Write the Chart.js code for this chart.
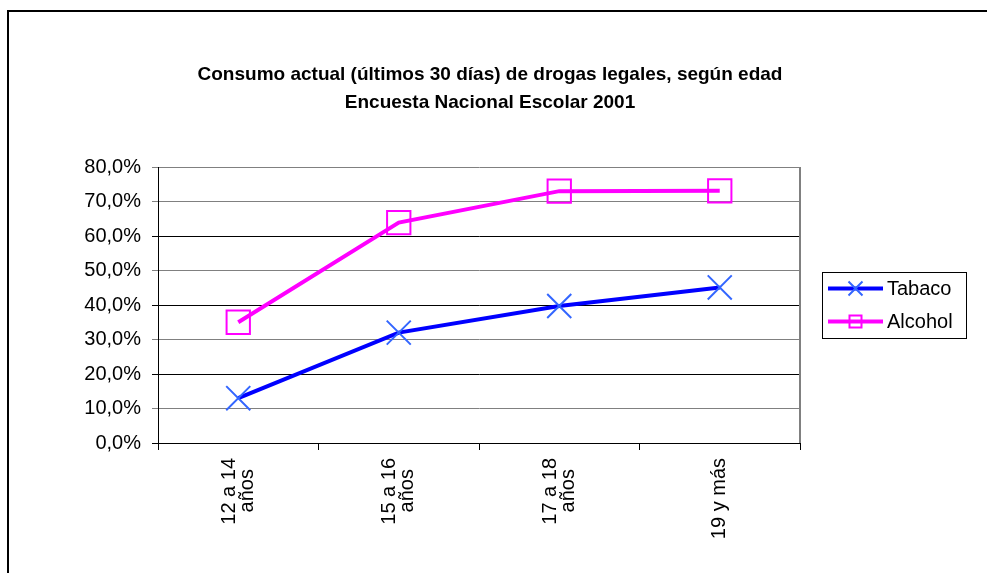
<!DOCTYPE html>
<html>
<head>
<meta charset="utf-8">
<script src="https://cdn.jsdelivr.net/npm/chart.js@4/dist/chart.umd.min.js"></script>
<style>
html,body{margin:0;padding:0;background:#fff;}
#wrap{width:987px;height:573px;position:relative;}
</style>
</head>
<body>
<div id="wrap"><canvas id="c" width="987" height="573"></canvas></div>
<script>
const categories = [['12 a 14', 'años'], ['15 a 16', 'años'], ['17 a 18', 'años'], ['19 y más']];
const tabaco = [13.0, 32.0, 39.7, 45.1];
const alcohol = [35.0, 63.9, 73.0, 73.1];
const yTicks = [0, 10, 20, 30, 40, 50, 60, 70, 80];
const seriesNames = ['Tabaco', 'Alcohol'];
const titleLines = ['Consumo actual (últimos 30 días) de drogas legales, según edad', 'Encuesta Nacional Escolar 2001'];

const FONT = "Arial, 'Liberation Sans', sans-serif";

const framePlugin = {
  id: 'frame',
  beforeDraw(chart) {
    const ctx = chart.ctx;
    ctx.save();
    ctx.fillStyle = '#fff';
    ctx.fillRect(0, 0, chart.width, chart.height);
    ctx.strokeStyle = '#000';
    ctx.lineWidth = 2;
    ctx.strokeRect(8, 11, chart.width + 20, chart.height + 20);
    ctx.restore();
  },
  beforeDatasetsDraw(chart) {
    const a = chart.chartArea, ctx = chart.ctx;
    ctx.save();
    ctx.strokeStyle = '#808080';
    ctx.lineWidth = 2;
    ctx.beginPath();
    ctx.moveTo(a.right, a.top);
    ctx.lineTo(a.right, a.bottom);
    ctx.stroke();
    ctx.restore();
  },
  afterDraw(chart) {
    const a = chart.chartArea, ctx = chart.ctx;
    const left = a.right + 22, w = 144, h = 66;
    const top = (a.top + a.bottom) / 2 - h / 2;
    ctx.save();
    ctx.strokeStyle = '#000';
    ctx.lineWidth = 1;
    ctx.strokeRect(left + 0.5, top + 0.5, w, h);
    const rows = [top + 16.5, top + 49.5];
    chart.data.datasets.forEach((ds, i) => {
      const y = rows[i];
      const x0 = left + 6, x1 = left + 61, xc = (x0 + x1) / 2;
      ctx.strokeStyle = ds.borderColor;
      ctx.lineWidth = ds.borderWidth;
      ctx.beginPath(); ctx.moveTo(x0, y); ctx.lineTo(x1, y); ctx.stroke();
      ctx.strokeStyle = ds.pointBorderColor;
      ctx.lineWidth = 2;
      if (ds.pointStyle === 'crossRot') {
        const r = 7;
        ctx.beginPath();
        ctx.moveTo(xc - r, y - r); ctx.lineTo(xc + r, y + r);
        ctx.moveTo(xc - r, y + r); ctx.lineTo(xc + r, y - r);
        ctx.stroke();
      } else {
        ctx.strokeRect(xc - 6, y - 6, 12, 12);
      }
      ctx.fillStyle = '#000';
      ctx.font = '20px ' + FONT;
      ctx.textAlign = 'left';
      ctx.textBaseline = 'middle';
      ctx.fillText(ds.label, x1 + 4, y + 1);
    });
    ctx.restore();
  }
};

new Chart(document.getElementById('c'), {
  type: 'line',
  data: {
    labels: categories,
    datasets: [
      {
        label: seriesNames[0], data: tabaco,
        borderColor: '#0000FF', borderWidth: 4, tension: 0,
        pointStyle: 'crossRot', pointRadius: 17, pointHoverRadius: 17,
        pointBorderColor: '#3366FF', pointBackgroundColor: '#3366FF', pointBorderWidth: 2
      },
      {
        label: seriesNames[1], data: alcohol,
        borderColor: '#FF00FF', borderWidth: 4, tension: 0,
        pointStyle: 'rect', pointRadius: 16.5, pointHoverRadius: 16.5,
        pointBorderColor: '#FF00FF', pointBackgroundColor: 'rgba(0,0,0,0)', pointBorderWidth: 2
      }
    ]
  },
  options: {
    responsive: false,
    animation: false,
    devicePixelRatio: 1,
    layout: { padding: { top: 47, left: 0, right: 7, bottom: 0 } },
    plugins: {
      legend: { display: false },
      tooltip: { enabled: false },
      title: {
        display: true, text: titleLines, color: '#000',
        font: { family: FONT, size: 19, weight: 'bold', lineHeight: 1.474 },
        padding: { top: 14, bottom: 50 }
      }
    },
    scales: {
      x: {
        type: 'category',
        offset: true,
        afterFit(s) { s.height = 130; },
        border: { display: true, color: '#000', width: 1 },
        grid: { display: true, drawOnChartArea: false, drawTicks: true, tickLength: 7, color: '#000', offset: true },
        ticks: {
          autoSkip: false, minRotation: 90, maxRotation: 90, padding: 8, color: '#000',
          labelOffset: -9,
          font: (c) => ({ family: FONT, size: 20, lineHeight: (categories[c.index] && categories[c.index].length === 1) ? '9px' : '18px' }),
          callback: (v, i) => {
            const l = categories[i];
            return l.length > 1 ? [l[0], l[1] + '  '] : ['', l[0]];
          }
        }
      },
      y: {
        type: 'linear', min: 0, max: 80,
        afterFit(s) { s.width = 158; },
        afterBuildTicks(s) { s.ticks = yTicks.map(v => ({ value: v })); },
        border: { display: true, color: '#000', width: 1 },
        grid: {
          drawOnChartArea: true, drawTicks: true, tickLength: 6, lineWidth: 1,
          color: (c) => { const v = c.tick ? c.tick.value : 0; return (v % 20 === 0 && v < 80) ? '#000' : '#808080'; }
        },
        ticks: {
          padding: 11, color: '#000',
          font: { family: FONT, size: 20 },
          callback: (v) => v.toFixed(1).replace('.', ',') + '%'
        }
      },
      y2: {
        type: 'linear', position: 'right', min: 0, max: 80,
        afterFit(s) { s.width = 180; },
        border: { display: false },
        grid: { display: false, drawOnChartArea: false },
        ticks: { display: false }
      }
    }
  },
  plugins: [framePlugin]
});
</script>
</body>
</html>
